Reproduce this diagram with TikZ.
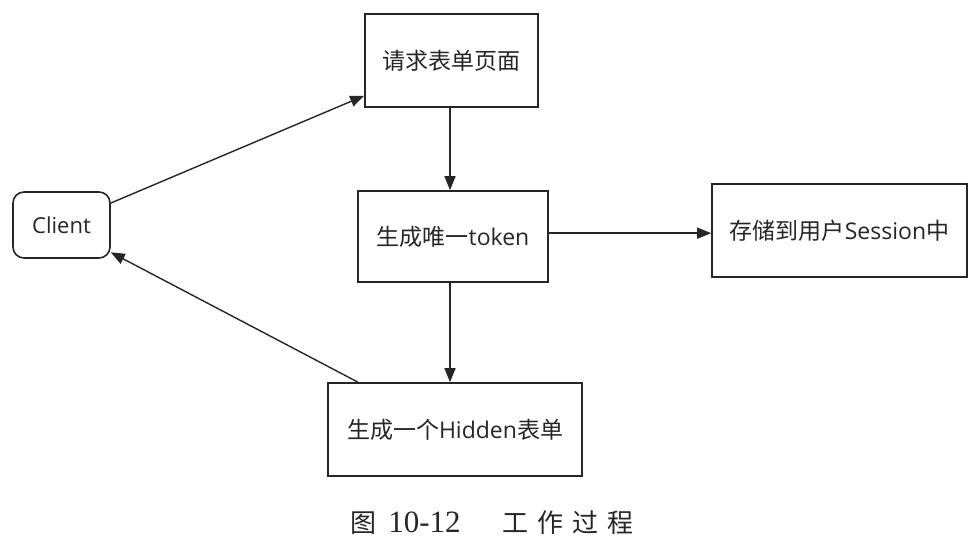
\documentclass[tikz,border=0pt]{standalone}
\usepackage{fontspec}
\setmainfont{Open Sans}
\newfontfamily\cjk{Noto Sans CJK SC}
\newfontfamily\capfont{Liberation Serif}
\usetikzlibrary{arrows.meta,calc}
\begin{document}
\begin{tikzpicture}[x=1pt,y=1pt,
  box/.style={draw=black!85,line width=1.6pt,inner sep=0pt,anchor=center,
    font=\fontsize{23}{26}\selectfont,text=black!85},
  arr/.style={draw=black!85,line width=1.4pt,-{Triangle[length=14pt,width=11pt]}}]
\useasboundingbox (0,0) rectangle (979,-549);
\node[box,rounded corners=11pt,minimum width=97pt,minimum height=66pt,font=\fontsize{22}{24}\selectfont] (client) at (61.5,-225) {Client};
\node[box,minimum width=173pt,minimum height=93pt] (req) at (451.5,-60.5) {\cjk 请求表单页面};
\node[box,minimum width=190pt,minimum height=91pt] (token) at (453,-236.5) {{\cjk 生成唯一}token};
\node[box,minimum width=255pt,minimum height=93pt] (store) at (839.5,-230.5) {{\cjk 存储到用户}Session{\cjk 中}};
\node[box,minimum width=254pt,minimum height=93pt] (hidden) at (455,-429.5) {{\cjk 生成一个}Hidden{\cjk 表单}};
\node[text=black!85,inner sep=0pt,font=\fontsize{26}{28}\selectfont] (cap) at (492,-523)
  {{\cjk 图}\hspace{12pt}{\capfont\fontsize{31}{32}\selectfont 10-12}\hspace{42pt}{\cjk 工\hspace{9pt}作\hspace{9pt}过\hspace{9pt}程}};
\draw[arr] (client.24) -- (req.202);
\draw[arr] ($(req.south)+(-1.5,0)$) -- ($(req.south |- token.north)+(-1.5,0)$);
\draw[arr] (token.2) -- (token.2 -| store.west);
\draw[arr] ($(token.south)+(-3,0)$) -- ($(token.south |- hidden.north)+(-3,0)$);
\draw[arr] (hidden.154) -- (client.-29);
\end{tikzpicture}
\end{document}
